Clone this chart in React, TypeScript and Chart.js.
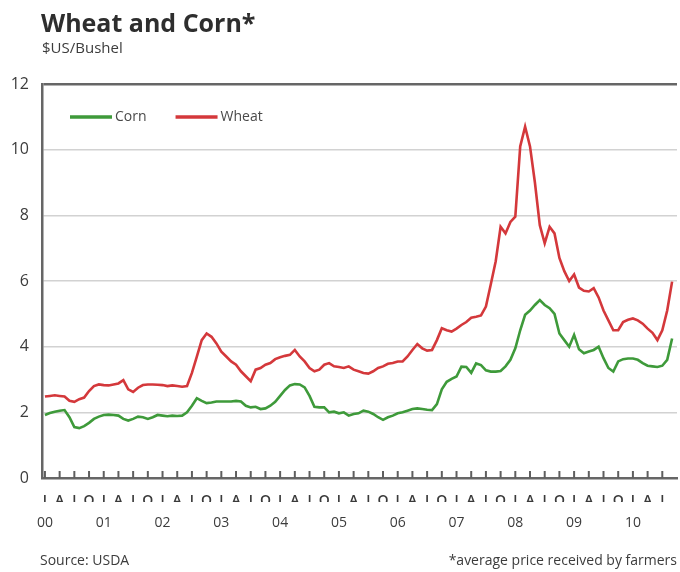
import React, { useEffect, useRef } from 'react';
import { Chart, registerables } from 'chart.js';

Chart.register(...registerables);

// Monthly prices received by farmers, $US/bushel, Jan 2000 – Sep 2010
const cornPrices = [
  1.92, 1.98, 2.02, 2.05, 2.07, 1.85, 1.55, 1.52, 1.58, 1.68, 1.8, 1.87,
  1.92, 1.93, 1.92, 1.9, 1.8, 1.75, 1.8, 1.87, 1.85, 1.8, 1.85, 1.92,
  1.9, 1.88, 1.9, 1.89, 1.9, 2.0, 2.2, 2.43, 2.35, 2.28, 2.3, 2.33,
  2.33, 2.33, 2.33, 2.35, 2.33, 2.2, 2.15, 2.17, 2.1, 2.12, 2.2, 2.32,
  2.5, 2.68, 2.82, 2.86, 2.85, 2.76, 2.5, 2.17, 2.15, 2.15, 2.0, 2.02,
  1.97, 2.0, 1.9, 1.95, 1.97, 2.05, 2.02, 1.95, 1.85, 1.77, 1.85, 1.9,
  1.97, 2.0, 2.05, 2.1, 2.12, 2.1, 2.08, 2.07, 2.25, 2.7, 2.93, 3.02,
  3.09, 3.39, 3.38, 3.2, 3.49, 3.44, 3.28, 3.24, 3.24, 3.26, 3.4, 3.6,
  3.95, 4.5, 4.97, 5.1, 5.27, 5.42, 5.27, 5.17, 5.0, 4.4, 4.2, 4.0,
  4.36, 3.92, 3.8, 3.85, 3.9, 4.0, 3.65, 3.35, 3.24, 3.55, 3.62, 3.64,
  3.64, 3.6, 3.5, 3.42, 3.4, 3.38, 3.42, 3.6, 4.25,
];

const wheatPrices = [
  2.48, 2.5, 2.52, 2.5, 2.48, 2.35, 2.32, 2.4, 2.45, 2.65, 2.8, 2.85,
  2.83, 2.82, 2.85, 2.88, 2.98, 2.7, 2.62, 2.75, 2.83, 2.85, 2.85, 2.84,
  2.83, 2.8, 2.82, 2.8, 2.78, 2.8, 3.2, 3.7, 4.2, 4.4, 4.3, 4.1,
  3.85, 3.7, 3.55, 3.45, 3.25, 3.1, 2.95, 3.3, 3.35, 3.45, 3.5, 3.62,
  3.68, 3.72, 3.75, 3.9, 3.7, 3.55, 3.35, 3.25, 3.3, 3.45, 3.5, 3.4,
  3.38, 3.35, 3.4, 3.3, 3.25, 3.2, 3.18, 3.25, 3.35, 3.4, 3.48, 3.5,
  3.55, 3.55, 3.7, 3.9, 4.08, 3.95, 3.88, 3.9, 4.2, 4.56, 4.5, 4.46,
  4.55, 4.66, 4.75, 4.88, 4.91, 4.95, 5.22, 5.9, 6.6, 7.65, 7.45, 7.8,
  7.96, 10.1, 10.7, 10.1, 9.0, 7.7, 7.15, 7.65, 7.45, 6.7, 6.3, 6.0,
  6.2, 5.8, 5.7, 5.68, 5.78, 5.5, 5.1, 4.8, 4.5, 4.5, 4.75, 4.82,
  4.86, 4.8, 4.7, 4.55, 4.42, 4.2, 4.5, 5.1, 5.98,
];

const seriesLabels = ['Corn', 'Wheat'];
const seriesColors = ['#3e9a3a', '#d4383b'];

// Quarter initials (Jan, Apr, Jul, Oct) and two-digit years for the time axis
const quarterLetters = ['J', 'A', 'J', 'O'];
const yearLabels = ['00', '01', '02', '03', '04', '05', '06', '07', '08', '09', '10'];

const yTickValues = [0, 2, 4, 6, 8, 10, 12];

const quarterTicks = Array.from({ length: 43 }, (_, i) => i * 3);
const yearTicks = yearLabels.map((_, i) => i * 12);

const FONT = '"Open Sans", "Noto Sans", sans-serif';
const TEXT = '#3c3c3c';
const AXIS = '#666666';

// Legend drawn inside the plot area, at the upper left
const insetLegend = {
  id: 'insetLegend',
  afterDraw(chart: any) {
    const { ctx } = chart;
    ctx.save();
    ctx.font = `14px ${FONT}`;
    ctx.textBaseline = 'middle';
    ctx.textAlign = 'left';
    let x = 70;
    const y = 117;
    chart.data.datasets.forEach((ds: any) => {
      ctx.strokeStyle = ds.borderColor;
      ctx.lineWidth = 3.5;
      ctx.lineCap = 'butt';
      ctx.beginPath();
      ctx.moveTo(x, y);
      ctx.lineTo(x + 42, y);
      ctx.stroke();
      ctx.fillStyle = '#4a4a4a';
      ctx.fillText(ds.label, x + 45, y);
      x += 45 + ctx.measureText(ds.label).width + 29;
    });
    ctx.restore();
  },
};

// Short quarter tick marks pointing up into the plot from the time axis
const innerTicks = {
  id: 'innerTicks',
  afterDraw(chart: any) {
    const { ctx, chartArea } = chart;
    const xScale = chart.scales.x;
    ctx.save();
    ctx.strokeStyle = '#5e5e5e';
    ctx.lineWidth = 2;
    ctx.lineCap = 'butt';
    quarterTicks.forEach((v) => {
      const px = xScale.getPixelForValue(v);
      ctx.beginPath();
      ctx.moveTo(px, chartArea.bottom);
      ctx.lineTo(px, chartArea.bottom - 7);
      ctx.stroke();
    });
    ctx.restore();
  },
};

export default function App() {
  const canvasRef = useRef<HTMLCanvasElement | null>(null);

  useEffect(() => {
    const canvas = canvasRef.current;
    if (!canvas) return;

    const series = [cornPrices, wheatPrices];
    const chart = new Chart(canvas, {
      type: 'line',
      data: {
        datasets: series.map((values, s) => ({
          label: seriesLabels[s],
          data: values.map((v, i) => ({ x: i, y: v })),
          borderColor: seriesColors[s],
          backgroundColor: seriesColors[s],
          borderWidth: 2.6,
          pointRadius: 0,
          tension: 0,
          fill: false,
        })),
      },
      options: {
        animation: false,
        responsive: false,
        maintainAspectRatio: false,
        layout: { padding: { top: 84, right: 3, left: 0, bottom: 0 } },
        plugins: {
          legend: { display: false },
          tooltip: { enabled: false },
        },
        scales: {
          x: {
            type: 'linear',
            position: 'bottom',
            min: -0.6,
            max: 129,
            weight: 0,
            afterBuildTicks: (scale: any) => {
              scale.ticks = quarterTicks.map((v) => ({ value: v }));
            },
            afterFit: (scale: any) => {
              scale.height = 24;
            },
            grid: { drawOnChartArea: false, drawTicks: false },
            border: { display: true, color: AXIS, width: 2.5 },
            ticks: {
              autoSkip: false,
              maxRotation: 0,
              minRotation: 0,
              padding: 15,
              color: '#3a3a3a',
              font: { family: FONT, size: 14, weight: '600' },
              callback: (v: any) => quarterLetters[(Number(v) % 12) / 3],
            },
          },
          years: {
            type: 'linear',
            position: 'bottom',
            min: -0.6,
            max: 129,
            weight: 1,
            afterBuildTicks: (scale: any) => {
              scale.ticks = yearTicks.map((v) => ({ value: v }));
            },
            afterFit: (scale: any) => {
              scale.height = 70;
            },
            grid: { display: false, drawTicks: false },
            border: { display: false },
            ticks: {
              autoSkip: false,
              maxRotation: 0,
              minRotation: 0,
              padding: 13,
              color: TEXT,
              font: { family: FONT, size: 14 },
              callback: (v: any) => yearLabels[Number(v) / 12],
            },
          },
          y: {
            type: 'linear',
            min: 0,
            max: 12,
            afterBuildTicks: (scale: any) => {
              scale.ticks = yTickValues.map((v) => ({ value: v }));
            },
            afterFit: (scale: any) => {
              scale.width = 42;
            },
            grid: {
              drawTicks: false,
              color: (ctx: any) => (ctx.tick && ctx.tick.value === 12 ? AXIS : '#d2d2d2'),
              lineWidth: (ctx: any) => (ctx.tick && ctx.tick.value === 12 ? 2.5 : 1.5),
            },
            border: { display: true, color: AXIS, width: 2.5 },
            ticks: {
              padding: 13,
              color: TEXT,
              font: { family: FONT, size: 16 },
            },
          },
        },
      },
      plugins: [insetLegend, innerTicks],
    } as any);

    return () => chart.destroy();
  }, []);

  return (
    <div
      style={{
        position: 'absolute',
        left: 0,
        top: 0,
        width: 680,
        height: 572,
        background: '#ffffff',
        fontFamily: FONT,
        color: TEXT,
        overflow: 'hidden',
      }}
    >
      <canvas ref={canvasRef} width={680} height={572} style={{ position: 'absolute', left: 0, top: 0 }} />
      <div style={{ position: 'absolute', left: 41, top: 7, fontSize: 25, fontWeight: 700, lineHeight: '30px', color: '#2e2e2e' }}>
        Wheat and Corn*
      </div>
      <div style={{ position: 'absolute', left: 42, top: 38, fontSize: 15, lineHeight: '18px' }}>$US/Bushel</div>
      <div style={{ position: 'absolute', left: 40, top: 551, fontSize: 14, lineHeight: '18px' }}>Source: USDA</div>
      <div style={{ position: 'absolute', right: 3, top: 551, fontSize: 14, lineHeight: '18px' }}>
        *average price received by farmers
      </div>
    </div>
  );
}
